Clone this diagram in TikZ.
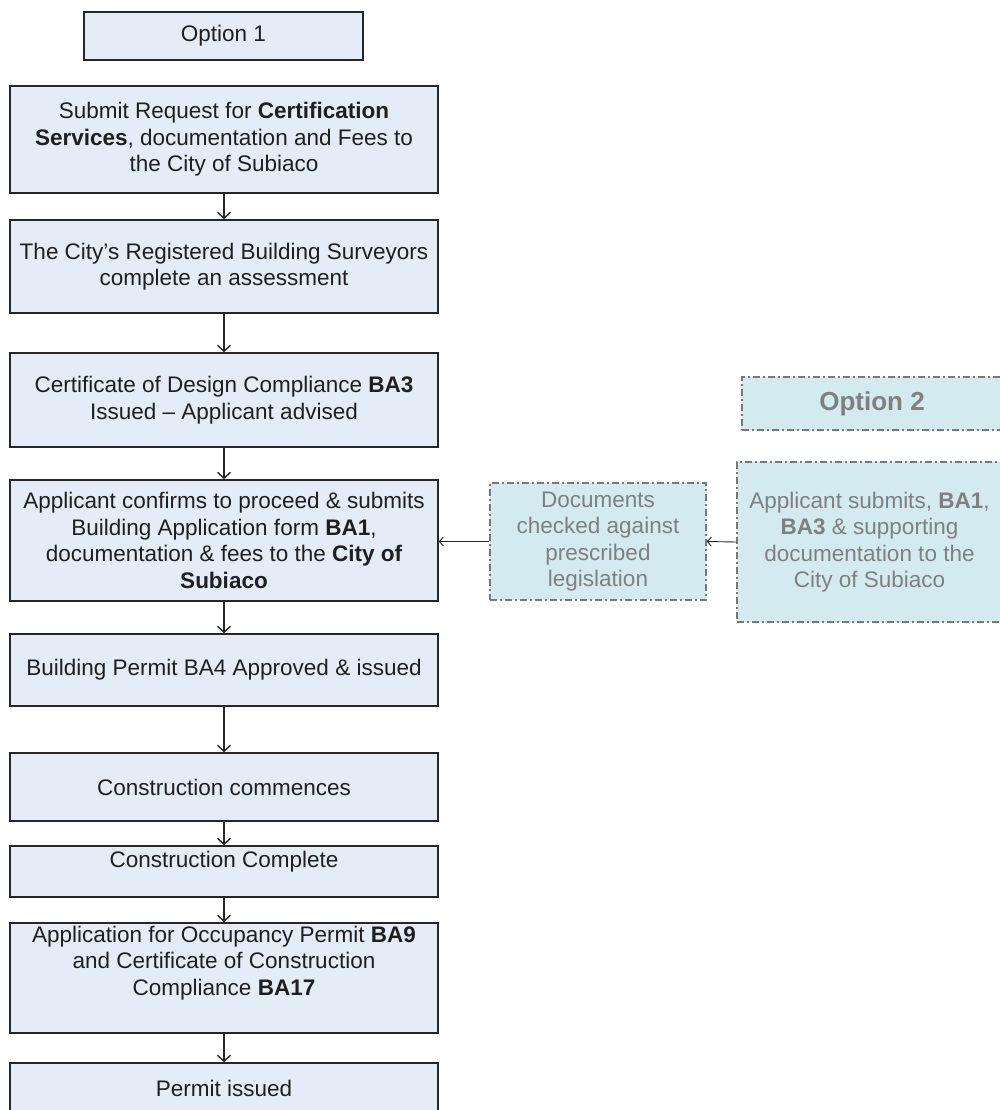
\documentclass[tikz,border=0pt]{standalone}
\usepackage{fontspec}
\setmainfont{Liberation Sans}
\usetikzlibrary{arrows.meta}
\definecolor{boxfill}{RGB}{228,236,247}
\definecolor{boxline}{RGB}{38,38,38}
\definecolor{optfill}{RGB}{210,234,240}
\definecolor{optline}{RGB}{120,120,120}
\definecolor{opttext}{RGB}{128,128,128}
\begin{document}
\begin{tikzpicture}[x=1pt,y=-1pt,
  mainbox/.style={draw=boxline, line width=1.6pt, fill=boxfill, minimum width=428pt, align=center, inner sep=0pt, font=\fontsize{22.5}{26.5}\selectfont, text=black!88},
  maintext/.style={align=center, inner sep=0pt, font=\fontsize{22.5}{26.5}\selectfont, text=black!88},
  optbox/.style={draw=optline, line width=1.5pt, dash pattern=on 7pt off 3pt on 2pt off 3pt, fill=optfill, align=center, inner sep=0pt, font=\fontsize{22.5}{26.5}\selectfont, text=opttext},
  arr/.style={-{Straight Barb[length=6pt,width=13pt]}, line width=1.4pt, draw=boxline},
  harr/.style={-{Straight Barb[length=4pt,width=9pt]}, line width=0.9pt, draw=boxline}]
\useasboundingbox (0,0) rectangle (999,1110);

% Option 1 column
\node[mainbox, minimum width=279pt, minimum height=48pt] (opt1) at (223.5,36) {Option 1};
\node[mainbox, minimum height=107pt] (b1) at (224,139.5) {Submit Request for \textbf{Certification}\\\textbf{Services}, documentation and Fees to\\the City of Subiaco};
\node[mainbox, minimum height=93pt] (b2) at (224,266.5) {The City’s Registered Building Surveyors\\complete an assessment};
\node[mainbox, minimum height=94pt] (b3) at (224,400) {Certificate of Design Compliance \textbf{BA3}\\Issued – Applicant advised};
\node[mainbox, minimum height=121pt] (b4) at (224,540.5) {Applicant confirms to proceed \& submits\\Building Application form \textbf{BA1},\\documentation \& fees to the \textbf{City of}\\\textbf{Subiaco}};
\node[mainbox, minimum height=72pt] (b5) at (224,670) {Building Permit BA4 Approved \& issued};
\node[mainbox, minimum height=68pt] (b6) at (224,787) {Construction commences};
\node[mainbox, minimum height=51pt] (b7) at (224,871.5) {};
\node[maintext] (t7) at (224,862) {Construction Complete};
\node[mainbox, minimum height=110pt] (b8) at (224,978) {};
\node[maintext] (t8) at (224,963) {Application for Occupancy Permit \textbf{BA9}\\and Certificate of Construction\\Compliance \textbf{BA17}};
\node[mainbox, minimum height=67pt] (b9) at (224,1096.5) {};
\node[maintext] (t9) at (224,1088) {Permit issued};

\draw[arr] (b1.south) -- (b2.north);
\draw[arr] (b2.south) -- (b3.north);
\draw[arr] (b3.south) -- (b4.north);
\draw[arr] (b4.south) -- (b5.north);
\draw[arr] (b5.south) -- (b6.north);
\draw[arr] (b6.south) -- (b7.north);
\draw[arr] (b7.south) -- (b8.north);
\draw[arr] (b8.south) -- (b9.north);

% Option 2 column
\node[optbox, minimum width=260pt, minimum height=53pt, font=\fontsize{26}{30}\selectfont\bfseries] (opt2) at (872,403.5) {Option 2};
\node[optbox, minimum width=265pt, minimum height=160pt] (app) at (869.5,542) {Applicant submits, \textbf{BA1},\\\textbf{BA3} \& supporting\\documentation to the\\City of Subiaco};
\node[optbox, minimum width=216pt, minimum height=117pt] (docs) at (598,541.5) {Documents\\checked against\\prescribed\\legislation};

\draw[harr] (app.west) -- (docs.east);
\draw[harr] (docs.west) -- (b4.east |- docs.west);
\end{tikzpicture}
\end{document}
